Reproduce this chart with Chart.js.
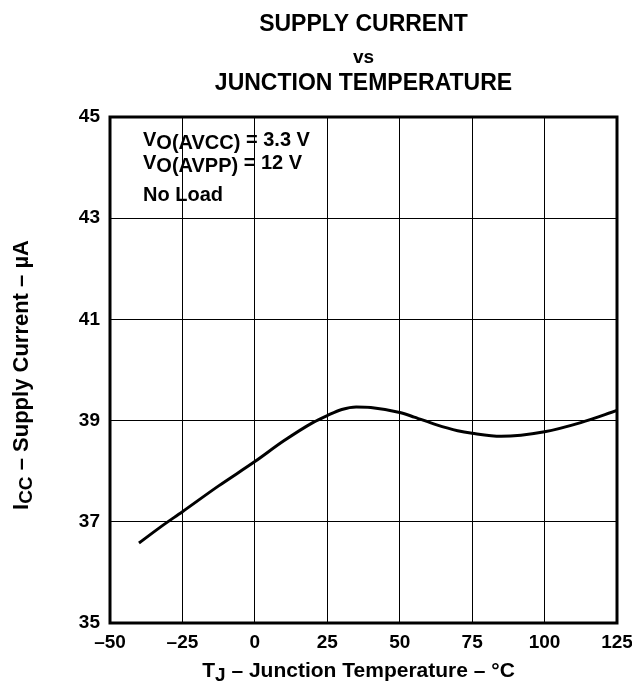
<!DOCTYPE html>
<html><head><meta charset="utf-8">
<script src="https://cdn.jsdelivr.net/npm/chart.js@4/dist/chart.umd.min.js"></script>
<style>html,body{margin:0;padding:0;background:#fff;}canvas{display:block;}</style>
</head><body>
<canvas id="c" width="632" height="684"></canvas>
<script>
// ---- data ----
const temperatures  = [-40, -32.5, -25, -12.5, 0, 10, 20, 25, 30, 35, 40, 50, 55, 62.5, 70, 75, 85, 100, 112.5, 125];
const supplyCurrent = [36.58, 36.9, 37.2, 37.71, 38.19, 38.6, 38.96, 39.1, 39.22, 39.27, 39.26, 39.16, 39.07, 38.92, 38.8, 38.75, 38.69, 38.78, 38.96, 39.2];
const xTickValues = [-50, -25, 0, 25, 50, 75, 100, 125];
const yTickValues = [35, 37, 39, 41, 43, 45];
const titleLines = ['SUPPLY CURRENT', 'vs', 'JUNCTION TEMPERATURE'];
const conditionLines = [
  [['V', 0], ['O(AVCC)', 1], [' = 3.3 V', 0]],
  [['V', 0], ['O(AVPP)', 1], [' = 12 V', 0]],
  [['No Load', 0]]
];
const yTitleParts = [['I', 0], ['CC', 1], [' \u2013 Supply Current \u2013 \u00B5A', 0]];
const xTitleParts = [['T', 0], ['J', 1], [' \u2013 Junction Temperature \u2013 \u00B0C', 0]];

const FONT = '"Liberation Sans", Arial, Helvetica, sans-serif';
const points = temperatures.map((t, i) => ({x: t, y: supplyCurrent[i]}));

function drawRich(ctx, x, y, parts, size, subSize, subDy, align) {
  const segs = parts.map(([t, sub]) => {
    const s = sub ? subSize : size;
    ctx.font = `bold ${s}px ${FONT}`;
    return {t, s, dy: sub ? subDy : 0, w: ctx.measureText(t).width};
  });
  const total = segs.reduce((a, s) => a + s.w, 0);
  let cx = align === 'center' ? x - total / 2 : x;
  segs.forEach(s => {
    ctx.font = `bold ${s.s}px ${FONT}`;
    ctx.fillText(s.t, cx, y + s.dy);
    cx += s.w;
  });
}

const decor = {
  id: 'decor',
  afterDraw(chart) {
    const ctx = chart.ctx, a = chart.chartArea;
    ctx.save();
    ctx.strokeStyle = '#000';
    ctx.lineWidth = 3;
    ctx.strokeRect(a.left, a.top, a.right - a.left, a.bottom - a.top);
    ctx.fillStyle = '#000';
    ctx.textBaseline = 'alphabetic';
    ctx.textAlign = 'left';
    const cx = (a.left + a.right) / 2;
    drawRich(ctx, cx, 31, [[titleLines[0], 0]], 23, 23, 0, 'center');
    drawRich(ctx, cx, 63, [[titleLines[1], 0]], 19, 19, 0, 'center');
    drawRich(ctx, cx, 90, [[titleLines[2], 0]], 23, 23, 0, 'center');
    const baselines = [146, 169, 201];
    conditionLines.forEach((ln, i) => drawRich(ctx, a.left + 33, baselines[i], ln, 20, 20, 3, 'left'));
    drawRich(ctx, cx - 5, 677, xTitleParts, 21, 19, 4, 'center');
    ctx.translate(28, (a.top + a.bottom) / 2 + 5);
    ctx.rotate(-Math.PI / 2);
    drawRich(ctx, 0, 0, yTitleParts, 22, 19, 4, 'center');
    ctx.restore();
  }
};

new Chart(document.getElementById('c'), {
  type: 'line',
  data: {
    datasets: [{
      data: points,
      borderColor: '#000',
      borderWidth: 3,
      pointRadius: 0,
      fill: false,
      cubicInterpolationMode: 'monotone',
      borderCapStyle: 'butt'
    }]
  },
  options: {
    responsive: false,
    animation: false,
    devicePixelRatio: 1,
    layout: {padding: {left: 0, top: 117, right: 15, bottom: 0}},
    plugins: {legend: {display: false}, tooltip: {enabled: false}, title: {display: false}},
    scales: {
      x: {
        type: 'linear', min: -50, max: 125,
        afterBuildTicks: s => { s.ticks = xTickValues.map(v => ({value: v})); },
        afterFit: s => { s.height = 61; s.paddingLeft = 0; s.paddingRight = 0; },
        grid: {color: '#000', lineWidth: 1, drawTicks: false},
        border: {display: false},
        ticks: {
          color: '#000', padding: 8, maxRotation: 0, autoSkip: false,
          font: {family: FONT, size: 19, weight: 'bold'},
          callback: v => v < 0 ? '\u2013' + Math.abs(v) : String(v)
        }
      },
      y: {
        type: 'linear', min: 35, max: 45,
        afterBuildTicks: s => { s.ticks = yTickValues.map(v => ({value: v})); },
        afterFit: s => { s.width = 110; s.paddingTop = 0; s.paddingBottom = 0; },
        grid: {color: '#000', lineWidth: 1, drawTicks: false},
        border: {display: false},
        ticks: {
          color: '#000', padding: 10, autoSkip: false,
          font: {family: FONT, size: 19, weight: 'bold'}
        }
      }
    }
  },
  plugins: [decor]
});
</script>
</body></html>
